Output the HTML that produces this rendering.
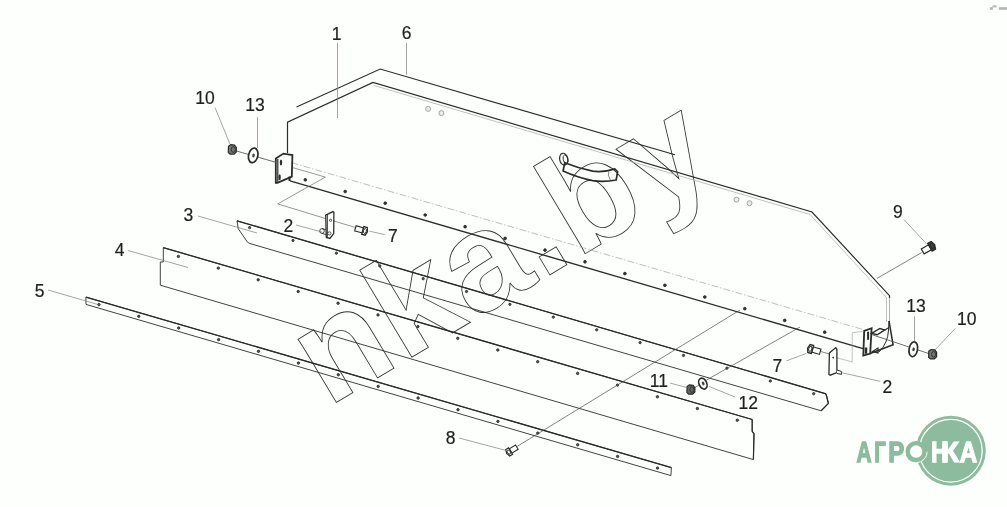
<!DOCTYPE html>
<html lang="ru">
<head>
<meta charset="utf-8">
<title>nka.by</title>
<style>
html,body{margin:0;padding:0;background:#fdfffd;}
body{width:1007px;height:507px;overflow:hidden;}
svg{display:block;will-change:transform;font-family:"Liberation Sans",sans-serif;}
</style>
</head>
<body>
<svg width="1007" height="507" viewBox="0 0 1007 507">
<rect width="1007" height="507" fill="#fdfffd"/>
<g transform="translate(328,407.6) rotate(-30.9)"><text x="0" y="0" font-size="140" font-weight="bold" letter-spacing="2.6" fill="none" stroke="#333" stroke-width="0.85">nka.by</text></g>
<path d="M296.5 107 L380.2 69 L675 154.8" fill="none" stroke="#2b2b2b" stroke-width="1.15" />
<path d="M287.5 153 L287.5 122.2 L373 82.4 L812 212 L889.5 295.7 L889.5 298" fill="none" stroke="#2b2b2b" stroke-width="1.2" />
<line x1="889.5" y1="298.0" x2="889.5" y2="322.0" stroke="#a8a8a8" stroke-width="0.9" />
<path d="M374 85.5 L810 214.5 L886.5 297.5 L886.5 322" fill="none" stroke="#b0b0b0" stroke-width="0.8" />
<line x1="290.0" y1="180.8" x2="863.0" y2="348.6" stroke="#2b2b2b" stroke-width="1.4" />
<line x1="291.5" y1="162.6" x2="862.0" y2="329.2" stroke="#a0a0a0" stroke-width="0.7" stroke-dasharray="7 2 1.5 2"/>
<circle cx="305.3" cy="179.8" r="1.35" fill="#333" stroke="#2b2b2b" stroke-width="0.9"/><circle cx="345.2" cy="191.5" r="1.35" fill="#333" stroke="#2b2b2b" stroke-width="0.9"/><circle cx="385.2" cy="203.2" r="1.35" fill="#333" stroke="#2b2b2b" stroke-width="0.9"/><circle cx="425.2" cy="215.0" r="1.35" fill="#333" stroke="#2b2b2b" stroke-width="0.9"/><circle cx="465.1" cy="226.7" r="1.35" fill="#333" stroke="#2b2b2b" stroke-width="0.9"/><circle cx="505.1" cy="238.4" r="1.35" fill="#333" stroke="#2b2b2b" stroke-width="0.9"/><circle cx="545.0" cy="250.1" r="1.35" fill="#333" stroke="#2b2b2b" stroke-width="0.9"/><circle cx="585.0" cy="261.8" r="1.35" fill="#333" stroke="#2b2b2b" stroke-width="0.9"/><circle cx="624.9" cy="273.6" r="1.35" fill="#333" stroke="#2b2b2b" stroke-width="0.9"/><circle cx="664.9" cy="285.3" r="1.35" fill="#333" stroke="#2b2b2b" stroke-width="0.9"/><circle cx="704.8" cy="297.0" r="1.35" fill="#333" stroke="#2b2b2b" stroke-width="0.9"/><circle cx="744.8" cy="308.7" r="1.35" fill="#333" stroke="#2b2b2b" stroke-width="0.9"/><circle cx="784.7" cy="320.4" r="1.35" fill="#333" stroke="#2b2b2b" stroke-width="0.9"/><circle cx="824.7" cy="332.2" r="1.35" fill="#333" stroke="#2b2b2b" stroke-width="0.9"/>
<circle cx="428.1" cy="108.9" r="2.5" fill="#ececec" stroke="#9a9a9a" stroke-width="0.9"/>
<circle cx="441.4" cy="113.1" r="2.5" fill="#ececec" stroke="#9a9a9a" stroke-width="0.9"/>
<circle cx="736.5" cy="199.7" r="2.5" fill="#ececec" stroke="#9a9a9a" stroke-width="0.9"/>
<circle cx="749.5" cy="203.2" r="2.5" fill="#ececec" stroke="#9a9a9a" stroke-width="0.9"/>
<path d="M564.8 162.7 Q578 168 592.6 171.2 Q604 172.5 614.8 168.9 L617.6 171.7 L616.2 180 Q604 182.5 592.6 180.7 Q576 177 563.1 171 Z" fill="none" stroke="#2b2b2b" stroke-width="1.7" />
<path d="M609 170.5 Q607 175 610.5 180.5" fill="none" stroke="#4a4a4a" stroke-width="0.7" />
<ellipse cx="563.7" cy="159.2" rx="4" ry="6" fill="none" stroke="#2e2e2e" stroke-width="1.2" transform="rotate(-12 563.7 159.2)"/>
<ellipse cx="565.6" cy="159.2" rx="2.4" ry="4.4" fill="none" stroke="#2e2e2e" stroke-width="0.9" transform="rotate(-12 565.6 159.2)"/>
<path d="M275.8 158.5 L283.4 153.6 L292.4 155 L291.8 176.6 L277.5 182.8 L275.8 182.8 Z" fill="none" stroke="#2b2b2b" stroke-width="1.8" />
<path d="M277.8 159 L277.8 182" fill="none" stroke="#2b2b2b" stroke-width="1.2" />
<path d="M289.5 176.6 L289.5 181" fill="none" stroke="#2b2b2b" stroke-width="2" />
<ellipse cx="281" cy="162.5" rx="1.2" ry="3" fill="#2e2e2e"/><ellipse cx="279.6" cy="177.3" rx="1.2" ry="3" fill="#2e2e2e"/>
<line x1="236.8" y1="151.1" x2="275.8" y2="162.3" stroke="#4a4a4a" stroke-width="0.8" />
<g transform="translate(232.3,149.5)"><path d="M-3.8 -3.2 L-1.5 -4.8 L2.2 -4.4 L4 -2 L4 2.4 L1.8 4.6 L-2.2 4.6 L-4 3 Z" fill="#777" stroke="#2b2b2b" stroke-width="1.2"/><ellipse cx="1" cy="0" rx="2" ry="2.8" fill="none" stroke="#2b2b2b" stroke-width="0.9"/></g>
<g transform="translate(253.2,155.4) rotate(12)"><ellipse cx="0" cy="0" rx="4.6" ry="7.4" fill="#fdfffd" stroke="#2b2b2b" stroke-width="1.7"/><ellipse cx="0.3" cy="0" rx="1.3" ry="2" fill="#444"/></g>
<path d="M292.7 167.6 L325.3 177.1 L277.7 203.9 L330.3 220 L356 227.6" fill="none" stroke="#6a6a6a" stroke-width="0.7" />
<path d="M325.7 215.1 L332.9 211.6 L333.9 212.4 L333.7 233.6 L329.9 238.4 L326.3 237.4 Z" fill="#fdfffd" stroke="#2b2b2b" stroke-width="1.3" />
<line x1="327.4" y1="214.6" x2="327.4" y2="237.4" stroke="#2b2b2b" stroke-width="0.9" />
<circle cx="330.6" cy="220.3" r="1.1" fill="none" stroke="#2b2b2b" stroke-width="0.8"/>
<ellipse cx="322" cy="231" rx="2.3" ry="2.4" fill="#fdfffd" stroke="#2b2b2b" stroke-width="0.9"/>
<path d="M322 228.6 L326 229.6 M322 233.4 L326 234.6" fill="none" stroke="#2b2b2b" stroke-width="0.9" />
<circle cx="329.4" cy="233.4" r="1.6" fill="none" stroke="#2b2b2b" stroke-width="0.8"/>
<g transform="translate(362.8,230.4) rotate(16) scale(1.1)"><path d="M-7 -2.4 L0 -2.4 L0 2.4 L-7 2.4 Z" fill="#fdfffd" stroke="#2b2b2b" stroke-width="1"/><path d="M0 -3.6 L3.2 -3.6 L4.4 0 L3.2 3.6 L0 3.6 Z" fill="#fdfffd" stroke="#2b2b2b" stroke-width="1.2"/><ellipse cx="2" cy="0" rx="1.3" ry="2.2" fill="none" stroke="#2b2b2b" stroke-width="0.8"/></g>
<path d="M237 220.8 L826 393.8 L828.4 403.4 L821.2 410.8 L249.5 243.4 L247.5 242.2 L238.3 228.8 Z" fill="none" stroke="#2b2b2b" stroke-width="0.9" />
<path d="M826 393.8 L828.4 403.4 L821.2 410.8" fill="none" stroke="#2b2b2b" stroke-width="1.3" />
<line x1="237.0" y1="220.8" x2="826.0" y2="393.8" stroke="#2b2b2b" stroke-width="1.3" />
<circle cx="249.6" cy="227.6" r="1.15" fill="#555" stroke="#2b2b2b" stroke-width="0.9"/><circle cx="293.0" cy="240.4" r="1.15" fill="#555" stroke="#2b2b2b" stroke-width="0.9"/><circle cx="336.4" cy="253.2" r="1.15" fill="#555" stroke="#2b2b2b" stroke-width="0.9"/><circle cx="379.8" cy="265.9" r="1.15" fill="#555" stroke="#2b2b2b" stroke-width="0.9"/><circle cx="423.2" cy="278.7" r="1.15" fill="#555" stroke="#2b2b2b" stroke-width="0.9"/><circle cx="466.5" cy="291.5" r="1.15" fill="#555" stroke="#2b2b2b" stroke-width="0.9"/><circle cx="509.9" cy="304.3" r="1.15" fill="#555" stroke="#2b2b2b" stroke-width="0.9"/><circle cx="553.3" cy="317.1" r="1.15" fill="#555" stroke="#2b2b2b" stroke-width="0.9"/><circle cx="596.7" cy="329.8" r="1.15" fill="#555" stroke="#2b2b2b" stroke-width="0.9"/><circle cx="640.1" cy="342.6" r="1.15" fill="#555" stroke="#2b2b2b" stroke-width="0.9"/><circle cx="683.5" cy="355.4" r="1.15" fill="#555" stroke="#2b2b2b" stroke-width="0.9"/><circle cx="726.9" cy="368.2" r="1.15" fill="#555" stroke="#2b2b2b" stroke-width="0.9"/><circle cx="770.3" cy="381.0" r="1.15" fill="#555" stroke="#2b2b2b" stroke-width="0.9"/><circle cx="813.7" cy="393.7" r="1.15" fill="#555" stroke="#2b2b2b" stroke-width="0.9"/>
<path d="M163.3 247.6 L752.2 419.5 L752.2 431.3 L754 433.8 L753.4 459.6 L160.3 285.2 L160.3 262 L163.3 262 Z" fill="none" stroke="#2b2b2b" stroke-width="0.9" />
<line x1="163.3" y1="247.6" x2="752.2" y2="419.5" stroke="#2b2b2b" stroke-width="1.3" />
<path d="M752.2 419.5 L752.2 431.3 L754 433.8 L753.4 459.6" fill="none" stroke="#2b2b2b" stroke-width="1.2" />
<circle cx="178.4" cy="256.4" r="1.2" fill="#555" stroke="#2b2b2b" stroke-width="0.9"/><circle cx="218.3" cy="268.1" r="1.2" fill="#555" stroke="#2b2b2b" stroke-width="0.9"/><circle cx="258.2" cy="279.8" r="1.2" fill="#555" stroke="#2b2b2b" stroke-width="0.9"/><circle cx="298.2" cy="291.5" r="1.2" fill="#555" stroke="#2b2b2b" stroke-width="0.9"/><circle cx="338.1" cy="303.2" r="1.2" fill="#555" stroke="#2b2b2b" stroke-width="0.9"/><circle cx="378.0" cy="314.9" r="1.2" fill="#555" stroke="#2b2b2b" stroke-width="0.9"/><circle cx="417.9" cy="326.6" r="1.2" fill="#555" stroke="#2b2b2b" stroke-width="0.9"/><circle cx="457.8" cy="338.3" r="1.2" fill="#555" stroke="#2b2b2b" stroke-width="0.9"/><circle cx="497.8" cy="350.0" r="1.2" fill="#555" stroke="#2b2b2b" stroke-width="0.9"/><circle cx="537.7" cy="361.7" r="1.2" fill="#555" stroke="#2b2b2b" stroke-width="0.9"/><circle cx="577.6" cy="373.4" r="1.2" fill="#555" stroke="#2b2b2b" stroke-width="0.9"/><circle cx="617.5" cy="385.1" r="1.2" fill="#555" stroke="#2b2b2b" stroke-width="0.9"/><circle cx="657.4" cy="396.8" r="1.2" fill="#555" stroke="#2b2b2b" stroke-width="0.9"/><circle cx="697.4" cy="408.5" r="1.2" fill="#555" stroke="#2b2b2b" stroke-width="0.9"/><circle cx="737.3" cy="420.2" r="1.2" fill="#555" stroke="#2b2b2b" stroke-width="0.9"/>
<path d="M85.9 297.1 L671.4 467.6 L670.9 475.6 L86 304.4 Z" fill="none" stroke="#2b2b2b" stroke-width="0.9" />
<line x1="85.9" y1="297.1" x2="671.4" y2="467.6" stroke="#2b2b2b" stroke-width="1.3" />
<circle cx="98.9" cy="304.6" r="1.2" fill="#555" stroke="#2b2b2b" stroke-width="0.9"/><circle cx="138.8" cy="316.3" r="1.2" fill="#555" stroke="#2b2b2b" stroke-width="0.9"/><circle cx="178.7" cy="328.0" r="1.2" fill="#555" stroke="#2b2b2b" stroke-width="0.9"/><circle cx="218.6" cy="339.6" r="1.2" fill="#555" stroke="#2b2b2b" stroke-width="0.9"/><circle cx="258.5" cy="351.3" r="1.2" fill="#555" stroke="#2b2b2b" stroke-width="0.9"/><circle cx="298.4" cy="363.0" r="1.2" fill="#555" stroke="#2b2b2b" stroke-width="0.9"/><circle cx="338.3" cy="374.7" r="1.2" fill="#555" stroke="#2b2b2b" stroke-width="0.9"/><circle cx="378.2" cy="386.4" r="1.2" fill="#555" stroke="#2b2b2b" stroke-width="0.9"/><circle cx="418.1" cy="398.0" r="1.2" fill="#555" stroke="#2b2b2b" stroke-width="0.9"/><circle cx="458.0" cy="409.7" r="1.2" fill="#555" stroke="#2b2b2b" stroke-width="0.9"/><circle cx="497.9" cy="421.4" r="1.2" fill="#555" stroke="#2b2b2b" stroke-width="0.9"/><circle cx="537.8" cy="433.1" r="1.2" fill="#555" stroke="#2b2b2b" stroke-width="0.9"/><circle cx="577.7" cy="444.8" r="1.2" fill="#555" stroke="#2b2b2b" stroke-width="0.9"/><circle cx="617.6" cy="456.4" r="1.2" fill="#555" stroke="#2b2b2b" stroke-width="0.9"/><circle cx="657.5" cy="468.1" r="1.2" fill="#555" stroke="#2b2b2b" stroke-width="0.9"/>
<line x1="517.0" y1="446.5" x2="740.0" y2="310.0" stroke="#4a4a4a" stroke-width="0.7" />
<g transform="translate(510.6,451) rotate(148) scale(1.05)"><path d="M-7 -2.4 L0 -2.4 L0 2.4 L-7 2.4 Z" fill="#fdfffd" stroke="#2b2b2b" stroke-width="1"/><path d="M0 -3.6 L3.2 -3.6 L4.4 0 L3.2 3.6 L0 3.6 Z" fill="#fdfffd" stroke="#2b2b2b" stroke-width="1.2"/><ellipse cx="2" cy="0" rx="1.3" ry="2.2" fill="none" stroke="#2b2b2b" stroke-width="0.8"/></g>
<line x1="706.4" y1="380.1" x2="800.0" y2="327.0" stroke="#4a4a4a" stroke-width="0.7" />
<line x1="692.0" y1="389.0" x2="705.0" y2="382.0" stroke="#4a4a4a" stroke-width="0.7" />
<g transform="translate(690.9,389.6)"><path d="M-3.8 -3.2 L-1.5 -4.8 L2.2 -4.4 L4 -2 L4 2.4 L1.8 4.6 L-2.2 4.6 L-4 3 Z" fill="#666" stroke="#2b2b2b" stroke-width="1.2"/><ellipse cx="1" cy="0" rx="2" ry="2.8" fill="none" stroke="#2b2b2b" stroke-width="0.9"/></g>
<g transform="translate(702.9,383.6) rotate(-25)"><ellipse cx="0" cy="0" rx="3.8" ry="5.7" fill="#fdfffd" stroke="#2b2b2b" stroke-width="1.7"/><ellipse cx="0.3" cy="0" rx="1.3" ry="2" fill="#444"/></g>
<path d="M864.2 330.9 L871.6 328.2 L870.2 353.5 L863.3 355.6 Z" fill="none" stroke="#2b2b2b" stroke-width="1.8" />
<line x1="868.1" y1="331.7" x2="868.1" y2="339.8" stroke="#2b2b2b" stroke-width="2" />
<line x1="866.0" y1="347.5" x2="866.0" y2="353.8" stroke="#2b2b2b" stroke-width="2.4" />
<path d="M889 321 L893.1 344.8 L870.2 353.5" fill="none" stroke="#2b2b2b" stroke-width="1.5" />
<path d="M889 321 L888.5 330 Q888 343 879 352" fill="none" stroke="#2b2b2b" stroke-width="1.0" />
<path d="M871.6 333.4 L879.9 328.5 L884.8 329.9 L877.2 334.8 Z" fill="none" stroke="#2b2b2b" stroke-width="1.4" />
<path d="M884.8 329.9 L889 327.5" fill="none" stroke="#2b2b2b" stroke-width="1.1" />
<path d="M872.5 351.5 L878 348 L878 353 Z" fill="none" stroke="#2b2b2b" stroke-width="1.2" />
<line x1="872.3" y1="334.8" x2="930.7" y2="354.2" stroke="#4a4a4a" stroke-width="0.8" />
<g transform="translate(913.3,349.3) rotate(10)"><ellipse cx="0" cy="0" rx="4.2" ry="7.5" fill="#fdfffd" stroke="#2b2b2b" stroke-width="1.7"/><ellipse cx="0.3" cy="0" rx="1.3" ry="2" fill="#444"/></g>
<g transform="translate(932.6,354.3)"><path d="M-3.8 -3.2 L-1.5 -4.8 L2.2 -4.4 L4 -2 L4 2.4 L1.8 4.6 L-2.2 4.6 L-4 3 Z" fill="#777" stroke="#2b2b2b" stroke-width="1.2"/><ellipse cx="1" cy="0" rx="2" ry="2.8" fill="none" stroke="#2b2b2b" stroke-width="0.9"/></g>
<path d="M862.7 331.5 L852.2 332.6 L852.2 362 L836 357.5" fill="none" stroke="#9a9a9a" stroke-width="0.6" />
<line x1="820.0" y1="351.3" x2="829.5" y2="354.0" stroke="#4a4a4a" stroke-width="0.7" />
<path d="M829.4 353.1 L835.7 347.6 L836.9 349.3 L836.9 372.6 L830.2 375.2 L828.9 374.4 Z" fill="#fdfffd" stroke="#2b2b2b" stroke-width="1.3" />
<path d="M836.9 370.1 L841.4 371.4 L841.4 374.4 L836.9 373.4" fill="#fdfffd" stroke="#2b2b2b" stroke-width="1" />
<circle cx="833.2" cy="357.6" r="0.9" fill="#2b2b2b"/>
<g transform="translate(812.5,349.5) rotate(196) scale(1.15)"><path d="M-7 -2.4 L0 -2.4 L0 2.4 L-7 2.4 Z" fill="#fdfffd" stroke="#2b2b2b" stroke-width="1"/><path d="M0 -3.6 L3.2 -3.6 L4.4 0 L3.2 3.6 L0 3.6 Z" fill="#fdfffd" stroke="#2b2b2b" stroke-width="1.2"/><ellipse cx="2" cy="0" rx="1.3" ry="2.2" fill="none" stroke="#2b2b2b" stroke-width="0.8"/></g>
<line x1="921.6" y1="252.6" x2="877.0" y2="278.4" stroke="#4a4a4a" stroke-width="0.7" />
<g transform="translate(930,247.2) rotate(-30) scale(1.2)"><path d="M-7 -2.4 L0 -2.4 L0 2.4 L-7 2.4 Z" fill="#fdfffd" stroke="#2b2b2b" stroke-width="1"/><path d="M0 -3.6 L3.2 -3.6 L4.4 0 L3.2 3.6 L0 3.6 Z" fill="#444" stroke="#2b2b2b" stroke-width="1.2"/><ellipse cx="2" cy="0" rx="1.3" ry="2.2" fill="none" stroke="#2b2b2b" stroke-width="0.8"/></g>
<line x1="337.5" y1="43.0" x2="337.5" y2="118.0" stroke="#7c7c7c" stroke-width="0.7" />
<line x1="406.5" y1="43.0" x2="406.5" y2="75.0" stroke="#7c7c7c" stroke-width="0.7" />
<line x1="215.0" y1="107.5" x2="229.9" y2="143.9" stroke="#7c7c7c" stroke-width="0.7" />
<line x1="257.5" y1="117.0" x2="257.5" y2="148.0" stroke="#7c7c7c" stroke-width="0.7" />
<line x1="198.0" y1="216.0" x2="257.0" y2="233.0" stroke="#7c7c7c" stroke-width="0.7" />
<line x1="128.0" y1="250.5" x2="188.0" y2="267.5" stroke="#7c7c7c" stroke-width="0.7" />
<line x1="48.0" y1="290.0" x2="98.0" y2="304.5" stroke="#7c7c7c" stroke-width="0.7" />
<line x1="296.0" y1="225.0" x2="322.0" y2="232.0" stroke="#7c7c7c" stroke-width="0.7" />
<line x1="369.5" y1="231.2" x2="384.8" y2="234.6" stroke="#7c7c7c" stroke-width="0.7" />
<line x1="904.0" y1="219.6" x2="926.6" y2="243.9" stroke="#7c7c7c" stroke-width="0.7" />
<line x1="914.5" y1="316.3" x2="914.5" y2="341.3" stroke="#7c7c7c" stroke-width="0.7" />
<line x1="955.4" y1="328.3" x2="934.9" y2="350.0" stroke="#7c7c7c" stroke-width="0.7" />
<line x1="880.3" y1="381.4" x2="841.4" y2="372.6" stroke="#7c7c7c" stroke-width="0.7" />
<line x1="786.3" y1="360.9" x2="806.4" y2="353.4" stroke="#7c7c7c" stroke-width="0.7" />
<line x1="670.1" y1="383.1" x2="687.1" y2="387.6" stroke="#7c7c7c" stroke-width="0.7" />
<line x1="708.9" y1="386.4" x2="735.2" y2="397.1" stroke="#7c7c7c" stroke-width="0.7" />
<line x1="459.0" y1="438.0" x2="508.0" y2="451.0" stroke="#7c7c7c" stroke-width="0.7" />
<text x="336.6" y="40.3" font-size="17.5" text-anchor="middle" fill="#1f1f1f" stroke="#1f1f1f" stroke-width="0.2">1</text>
<text x="406.7" y="38.8" font-size="17.5" text-anchor="middle" fill="#1f1f1f" stroke="#1f1f1f" stroke-width="0.2">6</text>
<text x="205" y="104" font-size="17.5" text-anchor="middle" fill="#1f1f1f" stroke="#1f1f1f" stroke-width="0.2">10</text>
<text x="255" y="110.8" font-size="17.5" text-anchor="middle" fill="#1f1f1f" stroke="#1f1f1f" stroke-width="0.2">13</text>
<text x="188.4" y="221.3" font-size="17.5" text-anchor="middle" fill="#1f1f1f" stroke="#1f1f1f" stroke-width="0.2">3</text>
<text x="119.7" y="256.4" font-size="17.5" text-anchor="middle" fill="#1f1f1f" stroke="#1f1f1f" stroke-width="0.2">4</text>
<text x="39.6" y="296.7" font-size="17.5" text-anchor="middle" fill="#1f1f1f" stroke="#1f1f1f" stroke-width="0.2">5</text>
<text x="288.3" y="231.7" font-size="17.5" text-anchor="middle" fill="#1f1f1f" stroke="#1f1f1f" stroke-width="0.2">2</text>
<text x="392.8" y="242.1" font-size="17.5" text-anchor="middle" fill="#1f1f1f" stroke="#1f1f1f" stroke-width="0.2">7</text>
<text x="897.8" y="218.1" font-size="17.5" text-anchor="middle" fill="#1f1f1f" stroke="#1f1f1f" stroke-width="0.2">9</text>
<text x="916" y="312.3" font-size="17.5" text-anchor="middle" fill="#1f1f1f" stroke="#1f1f1f" stroke-width="0.2">13</text>
<text x="966.7" y="325.1" font-size="17.5" text-anchor="middle" fill="#1f1f1f" stroke="#1f1f1f" stroke-width="0.2">10</text>
<text x="887.3" y="392.7" font-size="17.5" text-anchor="middle" fill="#1f1f1f" stroke="#1f1f1f" stroke-width="0.2">2</text>
<text x="777.4" y="372" font-size="17.5" text-anchor="middle" fill="#1f1f1f" stroke="#1f1f1f" stroke-width="0.2">7</text>
<text x="658.8" y="387.1" font-size="17.5" text-anchor="middle" fill="#1f1f1f" stroke="#1f1f1f" stroke-width="0.2">11</text>
<text x="748.3" y="409" font-size="17.5" text-anchor="middle" fill="#1f1f1f" stroke="#1f1f1f" stroke-width="0.2">12</text>
<text x="450.5" y="444.2" font-size="17.5" text-anchor="middle" fill="#1f1f1f" stroke="#1f1f1f" stroke-width="0.2">8</text>
<circle cx="950.8" cy="450.7" r="35" fill="#8dbb9d"/>
<circle cx="950.8" cy="450.7" r="31.4" fill="none" stroke="#fdfffd" stroke-width="1.3"/>
<text transform="translate(856.38,461.70) scale(0.729,1)" font-size="28.63" font-weight="bold" fill="#8dbb9d" stroke="#8dbb9d" stroke-width="1.2" vector-effect="non-scaling-stroke" stroke-linejoin="miter">А</text>
<text transform="translate(874.25,461.70) scale(0.706,1)" font-size="28.63" font-weight="bold" fill="#8dbb9d" stroke="#8dbb9d" stroke-width="1.2" vector-effect="non-scaling-stroke" stroke-linejoin="miter">Г</text>
<text transform="translate(888.28,461.70) scale(0.845,1)" font-size="28.63" font-weight="bold" fill="#8dbb9d" stroke="#8dbb9d" stroke-width="1.2" vector-effect="non-scaling-stroke" stroke-linejoin="miter">Р</text>
<text transform="translate(904.92,461.90) scale(0.971,1)" font-size="29.65" font-weight="bold" fill="#8dbb9d" stroke="#8dbb9d" stroke-width="0.6" vector-effect="non-scaling-stroke" stroke-linejoin="miter">О</text>
<circle cx="916.1" cy="451.6" r="8.4" fill="#fdfffd" stroke="#8dbb9d" stroke-width="4.3"/>
<circle cx="916.1" cy="451.6" r="11.1" fill="none" stroke="#fdfffd" stroke-width="0.9" stroke-dasharray="34 100" stroke-dashoffset="17"/>
<text transform="translate(931.03,461.70) scale(0.820,1)" font-size="28.63" font-weight="bold" fill="#fdfffd" stroke="#fdfffd" stroke-width="1.2" vector-effect="non-scaling-stroke" stroke-linejoin="miter">Н</text>
<text transform="translate(941.01,461.70) scale(1.038,1)" font-size="28.63" font-weight="bold" fill="#fdfffd" stroke="#fdfffd" stroke-width="1.2" vector-effect="non-scaling-stroke" stroke-linejoin="miter">К</text>
<text transform="translate(959.80,461.70) scale(0.843,1)" font-size="28.63" font-weight="bold" fill="#fdfffd" stroke="#fdfffd" stroke-width="1.2" vector-effect="non-scaling-stroke" stroke-linejoin="miter">А</text>
<rect x="989.9" y="7.2" width="3" height="2.6" fill="#b5b5b5"/><rect x="992.3" y="5.3" width="4.5" height="2.3" rx="1" fill="#bcbcbc"/><rect x="998.8" y="7.2" width="8.2" height="2.6" fill="#b5b5b5"/>
</svg>
</body>
</html>
